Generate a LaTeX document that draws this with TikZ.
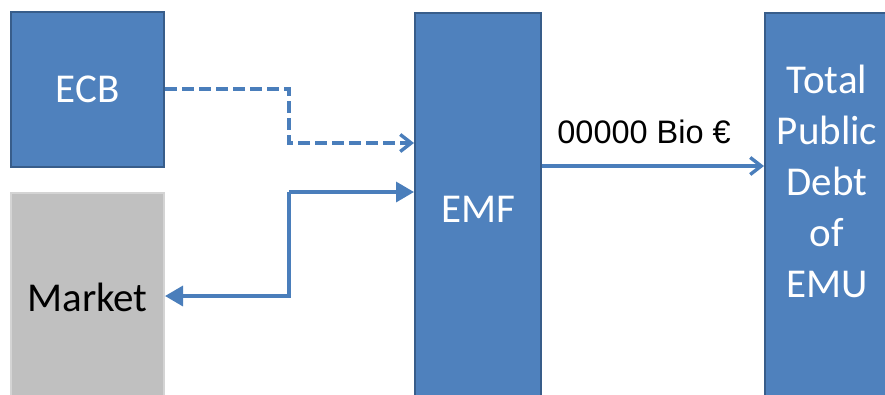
\documentclass[tikz,border=0pt]{standalone}
\usepackage{fontspec}
\setmainfont{Carlito}
\newfontfamily\arialfont{Liberation Sans}
\usetikzlibrary{arrows.meta}
\definecolor{boxblue}{HTML}{4F81BD}
\definecolor{boxedge}{HTML}{385D8A}
\definecolor{linkblue}{HTML}{4A7EBB}
\definecolor{mktgray}{HTML}{C0C0C0}
\definecolor{mktedge}{HTML}{D4D4D4}
\tikzset{
  bluebox/.style={draw=boxedge, fill=boxblue, line width=2pt, inner sep=0pt, text=white,
    font=\fontsize{41}{51}\selectfont, align=center},
  graybox/.style={draw=mktedge, fill=mktgray, line width=2pt, inner sep=0pt, text=black,
    font=\fontsize{41}{51}\selectfont},
  boxtext/.style={font=\fontsize{41}{51}\selectfont},
  link/.style={draw=linkblue, line width=3.4pt},
  dashlink/.style={link, dash pattern=on 12pt off 5pt},
  barb/.style={-{Straight Barb[length=11pt,width=17pt,line width=3.4pt]}},
  tri/.style={-{Triangle[length=18pt,width=20pt]}},
}
\begin{document}
\begin{tikzpicture}[x=1pt,y=-1pt]
\useasboundingbox (0,0) rectangle (885,394);
\clip (0,0) rectangle (885,394);
\node[bluebox, minimum width=153pt, minimum height=155pt] (ecb) at (87.5,89.5) {ECB};
\node[graybox, minimum width=153pt, minimum height=220pt, anchor=north] (mkt) at (87.5,192) {};
\node[boxtext] (mkttxt) at (87.5,297) {Market};
\node[bluebox, minimum width=126pt, minimum height=392pt, anchor=north] (emf) at (478,12) {};
\node[boxtext, text=white] (emftxt) at (478,209) {EMF};
\node[bluebox, minimum width=126pt, minimum height=400pt, anchor=north] (tot) at (828,12) {};
\node[boxtext, text=white, align=center, anchor=north] (tottxt) at (827,61) {Total\\Public\\Debt\\of\\EMU};
\coordinate (d1) at (289,89);
\coordinate (d2) at (289,143);
\coordinate (s1) at (289,192);
\coordinate (s2) at (289,296);
\draw[dashlink, barb] (ecb.east |- d1) -- (d1) -- (d2) -- (emf.west |- d2);
\draw[link, tri] (s1) -- (emf.west |- s1);
\draw[link, tri] (s1) -- (s2) -- (mkt.east |- s2);
\coordinate (a1) at (541,166);
\draw[link, barb] (emf.east |- a1) -- (tot.west |- a1) node[pos=0.46, above=17pt, text=black, font=\arialfont\fontsize{32.5}{38}\selectfont] (lbl) {00000 Bio €};
\end{tikzpicture}
\end{document}
